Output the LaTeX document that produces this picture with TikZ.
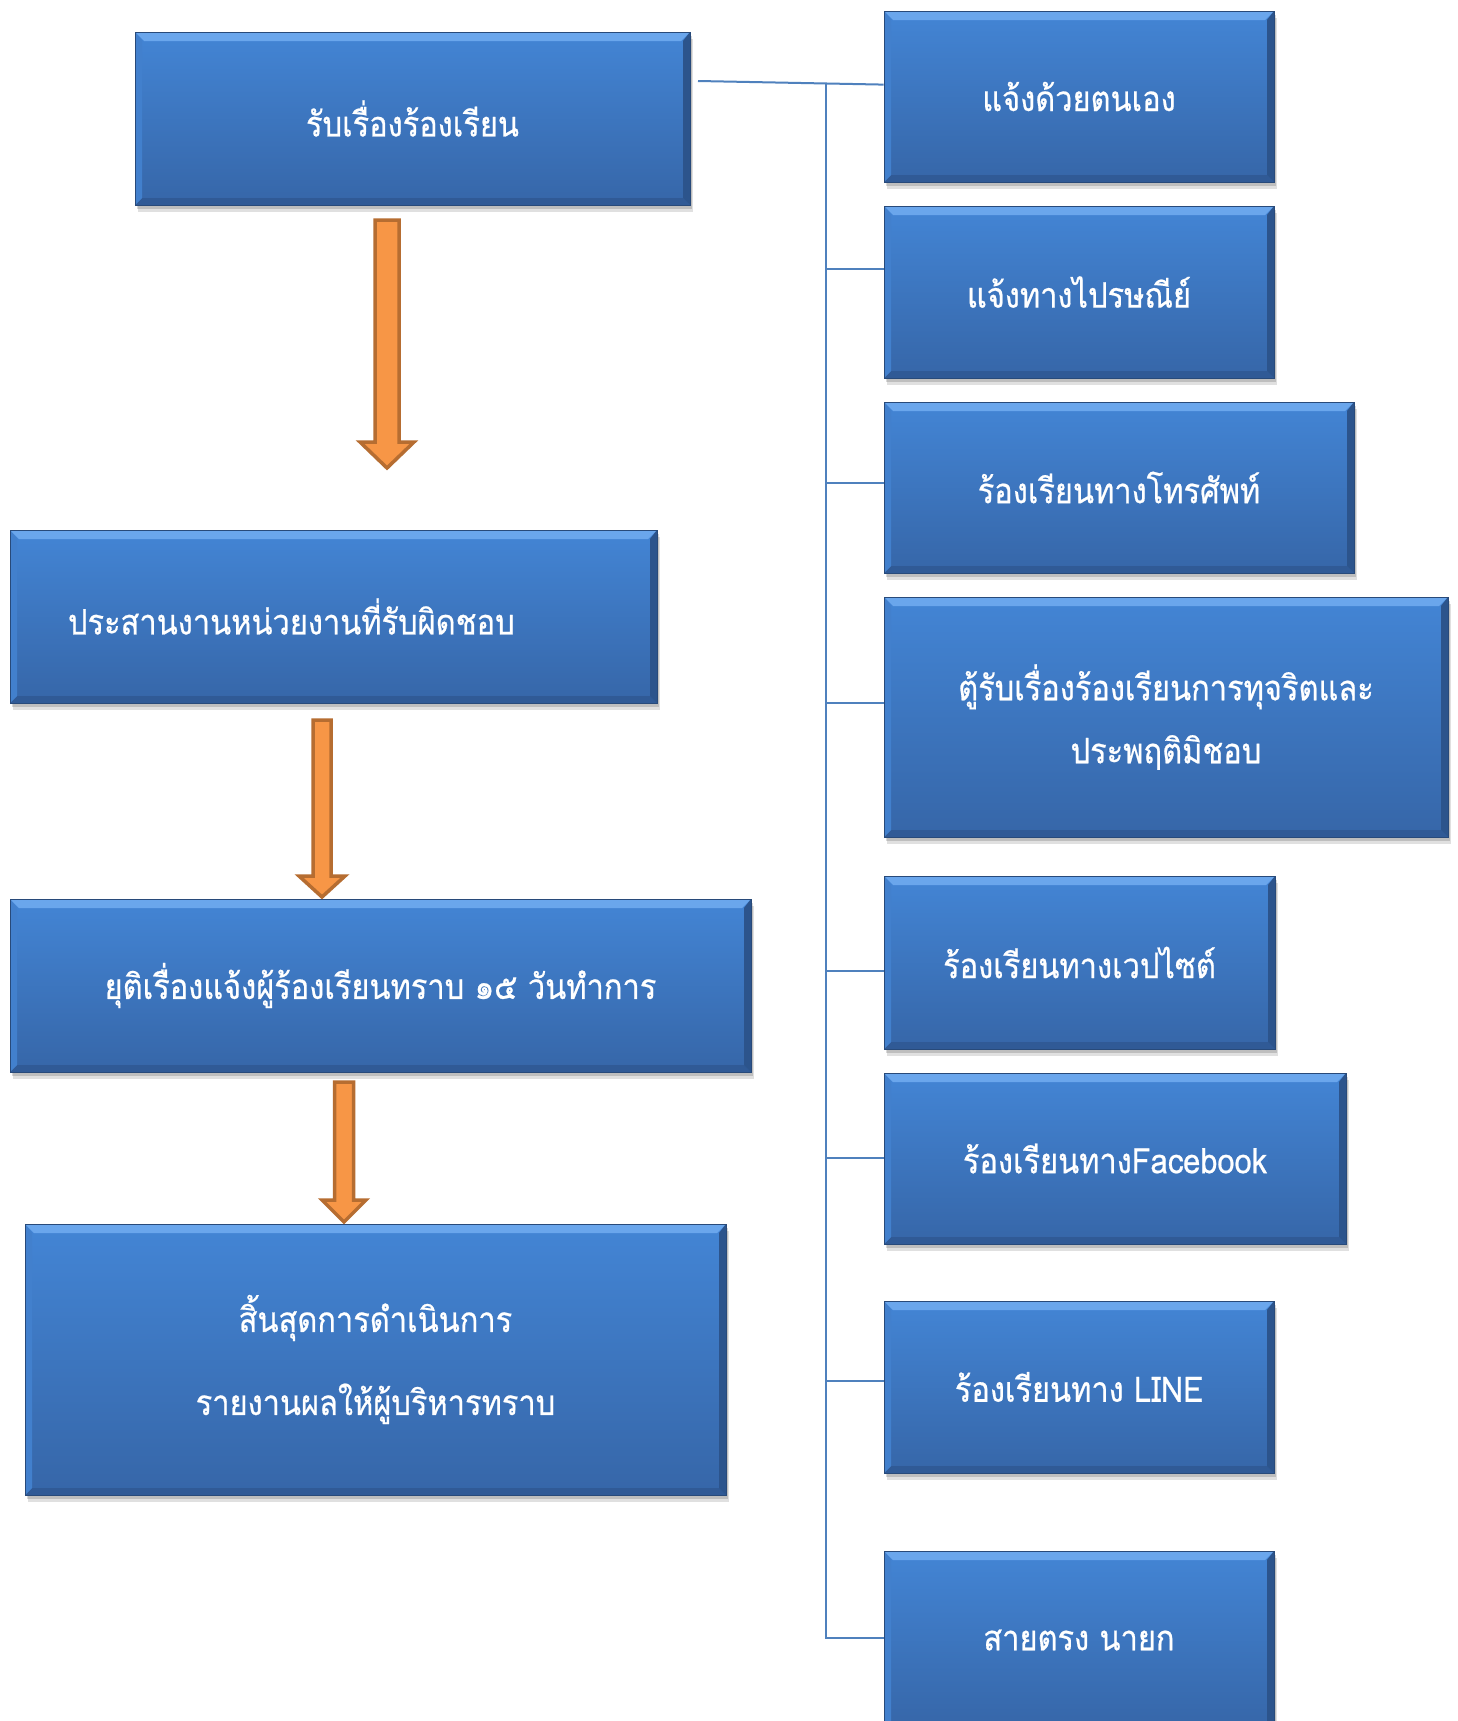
\documentclass[tikz,border=0pt]{standalone}
\usepackage{fontspec}
\newfontfamily\thaifont[Script=Thai,FakeStretch=0.88,FakeBold=0.6]{Loma}
\usetikzlibrary{shadows,calc}
\definecolor{boxtop}{RGB}{67,133,213}
\definecolor{boxbot}{RGB}{54,102,168}
\definecolor{bevtop}{RGB}{106,166,236}
\definecolor{bevbot}{RGB}{48,90,150}
\definecolor{bevleft}{RGB}{66,128,205}
\definecolor{bevright}{RGB}{44,84,140}
\definecolor{boxedge}{RGB}{40,74,122}
\definecolor{arrfill}{RGB}{247,150,70}
\definecolor{arredge}{RGB}{182,109,49}
\definecolor{linkcol}{RGB}{79,129,189}
\tikzset{
  bluebox/.style={rectangle, inner sep=0pt, top color=boxtop, bottom color=boxbot,
    draw=boxedge, line width=0.8pt, text=white,
    font=\thaifont\fontsize{35}{42}\selectfont, align=center,
    drop shadow={shadow xshift=3pt, shadow yshift=-7pt, opacity=0.12, fill=black},
    drop shadow={shadow xshift=2pt, shadow yshift=-4pt, opacity=0.15, fill=black},
    path picture={
      \fill[bevtop] (path picture bounding box.north west) -- (path picture bounding box.north east)
        -- ([shift={(-9pt,-9pt)}]path picture bounding box.north east)
        -- ([shift={(9pt,-9pt)}]path picture bounding box.north west) -- cycle;
      \fill[bevbot] (path picture bounding box.south west) -- (path picture bounding box.south east)
        -- ([shift={(-7pt,7pt)}]path picture bounding box.south east)
        -- ([shift={(7pt,7pt)}]path picture bounding box.south west) -- cycle;
      \fill[bevleft] (path picture bounding box.north west) -- (path picture bounding box.south west)
        -- ([shift={(7pt,7pt)}]path picture bounding box.south west)
        -- ([shift={(7pt,-9pt)}]path picture bounding box.north west) -- cycle;
      \fill[bevright] (path picture bounding box.north east) -- (path picture bounding box.south east)
        -- ([shift={(-7pt,7pt)}]path picture bounding box.south east)
        -- ([shift={(-7pt,-9pt)}]path picture bounding box.north east) -- cycle;
    }},
  link/.style={draw=linkcol, line width=2pt},
  fatarrow/.style={fill=arrfill, draw=arredge, line width=3.5pt, line join=miter},
}
% #1 x, #2 top, #3 head start, #4 tip, #5 shaft half, #6 head half
\newcommand\orangearrow[6]{%
  \draw[fatarrow] (#1-#5,#2) -- (#1+#5,#2) -- (#1+#5,#3) -- (#1+#6,#3) -- (#1,#4)
    -- (#1-#6,#3) -- (#1-#5,#3) -- cycle;}
\begin{document}
\begin{tikzpicture}[x=1pt,y=-1pt]
\useasboundingbox[fill=white] (0,0) rectangle (1457,1721);

% left column
\node[bluebox, minimum width=555pt, minimum height=173pt] (b1) at (412.5,118.5) {รับเรื่องร้องเรียน};
\node[bluebox, minimum width=647pt, minimum height=173pt, text width=531pt, inner xsep=58pt, align=left] (b2) at (333.5,616.5) {ประสานงานหน่วยงานที่รับผิดชอบ};
\node[bluebox, minimum width=741pt, minimum height=173pt] (b3) at (380.5,985.5) {ยุติเรื่องแจ้งผู้ร้องเรียนทราบ ๑๕ วันทำการ};
\node[bluebox, minimum width=701pt, minimum height=271pt] (b4) at (375.5,1359.5) {สิ้นสุดการดำเนินการ\\[41pt]รายงานผลให้ผู้บริหารทราบ};

% right column
\node[bluebox, minimum width=390pt, minimum height=171pt] (r1) at (1079,96.5) {แจ้งด้วยตนเอง};
\node[bluebox, minimum width=390pt, minimum height=172pt] (r2) at (1079,292) {แจ้งทางไปรษณีย์};
\node[bluebox, minimum width=470pt, minimum height=171pt] (r3) at (1119,487.5) {ร้องเรียนทางโทรศัพท์};
\node[bluebox, minimum width=564pt, minimum height=240pt] (r4) at (1166,717) {ตู้รับเรื่องร้องเรียนการทุจริตและ\\[21pt]ประพฤติมิชอบ};
\node[bluebox, minimum width=391pt, minimum height=173pt] (r5) at (1079.5,962.5) {ร้องเรียนทางเวปไซต์};
\node[bluebox, minimum width=462pt, minimum height=171pt] (r6) at (1115,1158.5) {ร้องเรียนทางFacebook};
\node[bluebox, minimum width=390pt, minimum height=172pt] (r7) at (1079,1387) {ร้องเรียนทาง LINE};
\node[bluebox, minimum width=390pt, minimum height=178pt] (r8) at (1079,1640) {สายตรง นายก};

% connectors
\coordinate (c0) at (698,81);
\coordinate (j1) at (826,84);
\coordinate (j2) at (826,269);
\coordinate (j3) at (826,483);
\coordinate (j4) at (826,703);
\coordinate (j5) at (826,971);
\coordinate (j6) at (826,1158);
\coordinate (j7) at (826,1381);
\coordinate (j8) at (826,1638);
\draw[link] (c0) -- ($(r1.north west)+(0,74)$);
\draw[link] (j1) -- (j8) -- (j8 -| r8.west);
\foreach \k/\r in {2/r2,3/r3,4/r4,5/r5,6/r6,7/r7}
  \draw[link] (j\k) -- (j\k -| \r.west);

% flow arrows
\orangearrow{387}{220}{442}{468}{12}{27}
\orangearrow{322}{720}{876}{897}{9}{23}
\orangearrow{344}{1082}{1200}{1222}{9.5}{22}
\end{tikzpicture}
\end{document}
